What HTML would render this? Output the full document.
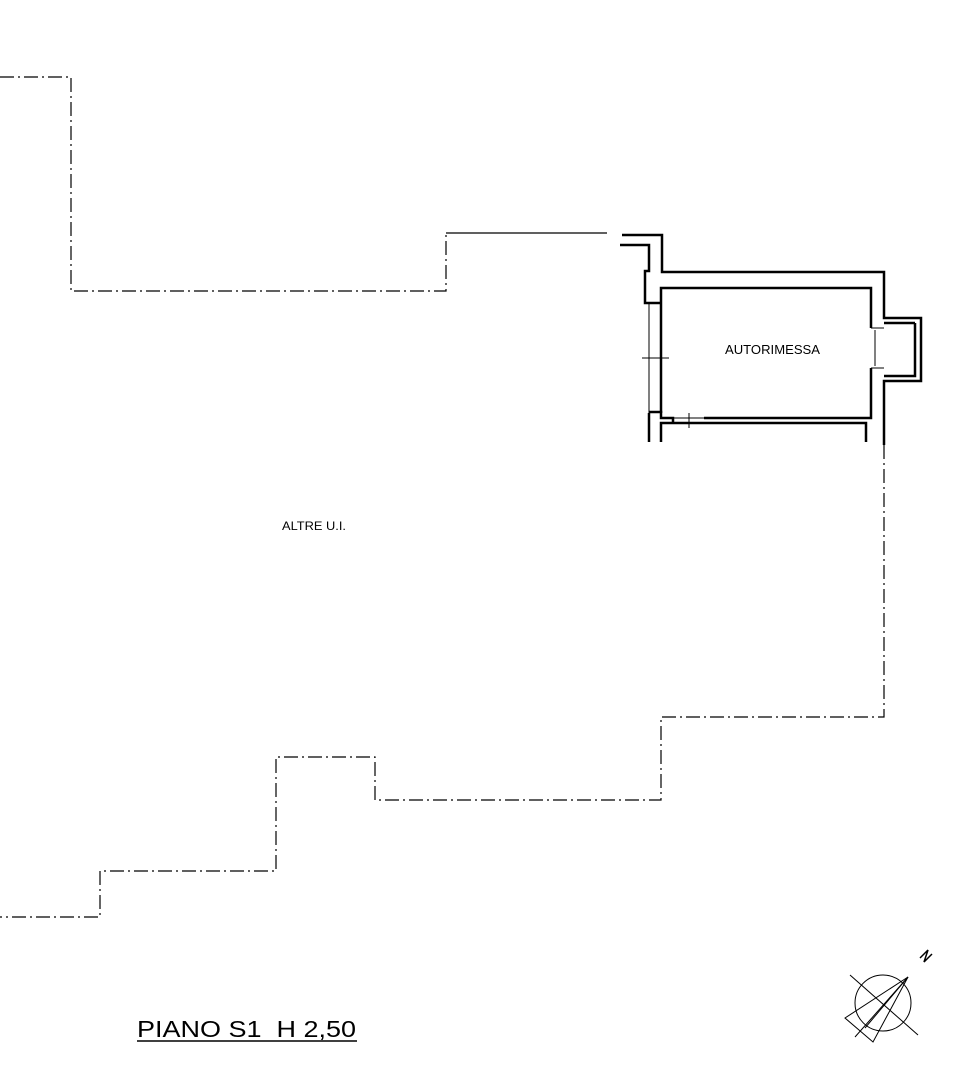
<!DOCTYPE html>
<html><head><meta charset="utf-8"><style>body{margin:0;background:#fff}svg{display:block}</style></head><body>
<svg width="974" height="1076" viewBox="0 0 974 1076" xmlns="http://www.w3.org/2000/svg" font-family="Liberation Sans, sans-serif">
<g fill="none" stroke="#000" stroke-width="1.2" stroke-dasharray="14,4,2,4">
<polyline points="0,77 71,77 71,291 446,291 446,234"/>
<polyline points="884,445 884,717 661,717 661,800 375,800 375,757 276,757 276,871 100,871 100,917 0,917"/>
</g>
<line x1="446" y1="233" x2="607" y2="233" stroke="#000" stroke-width="1.2"/>
<g fill="none" stroke="#000" stroke-width="2.5">
<polyline points="622,235 662,235 662,272 884,272 884,318 921,318 921,381 884,381 884,445"/>
<polyline points="620,245 649,245 649,271 645,271 645,303 661,303"/>
<polyline points="661,413 661,288 871,288 871,328"/>
<polyline points="871,368 871,418 704,418"/>
<polyline points="915,323 915,376 884,376"/>
<polyline points="884,323 915,323"/>
<polyline points="649,413 649,442"/>
<polyline points="661,442 661,423 866,423 866,442"/>
<polyline points="649,412 661,412 661,418 673,418 673,423"/>
</g>
<g stroke="#000" stroke-width="1">
<line x1="649" y1="303" x2="649" y2="413"/>
<line x1="661" y1="303" x2="661" y2="413"/>
<line x1="642" y1="358" x2="669" y2="358"/>
<line x1="871" y1="328" x2="884" y2="328"/><line x1="871" y1="368" x2="884" y2="368"/>
<line x1="875" y1="330" x2="875" y2="366"/>
<line x1="673" y1="418" x2="704" y2="418"/><line x1="673" y1="423" x2="704" y2="423"/>
<line x1="689" y1="413" x2="689" y2="428"/>
</g>
<text x="725" y="354" font-size="13" textLength="95" lengthAdjust="spacingAndGlyphs">AUTORIMESSA</text>
<text x="282" y="530" font-size="12" textLength="64" lengthAdjust="spacingAndGlyphs">ALTRE U.I.</text>
<text x="137" y="1037" font-size="23" textLength="219" lengthAdjust="spacingAndGlyphs">PIANO S1&#160;&#160;H 2,50</text>
<line x1="137" y1="1041" x2="357" y2="1041" stroke="#000" stroke-width="1.5"/>
<g fill="none" stroke="#000" stroke-width="1">
<circle cx="883" cy="1003" r="28"/>
<line x1="850" y1="975" x2="918" y2="1035"/>
<polygon points="908,977 845,1018 873,1042"/>
<line x1="908" y1="977" x2="855" y2="1037"/>
<line x1="908" y1="977" x2="865" y2="1028"/>
<polyline points="920,958 928,950 924,962 932,954" stroke-width="1.5"/>
</g>
</svg>
</body></html>
